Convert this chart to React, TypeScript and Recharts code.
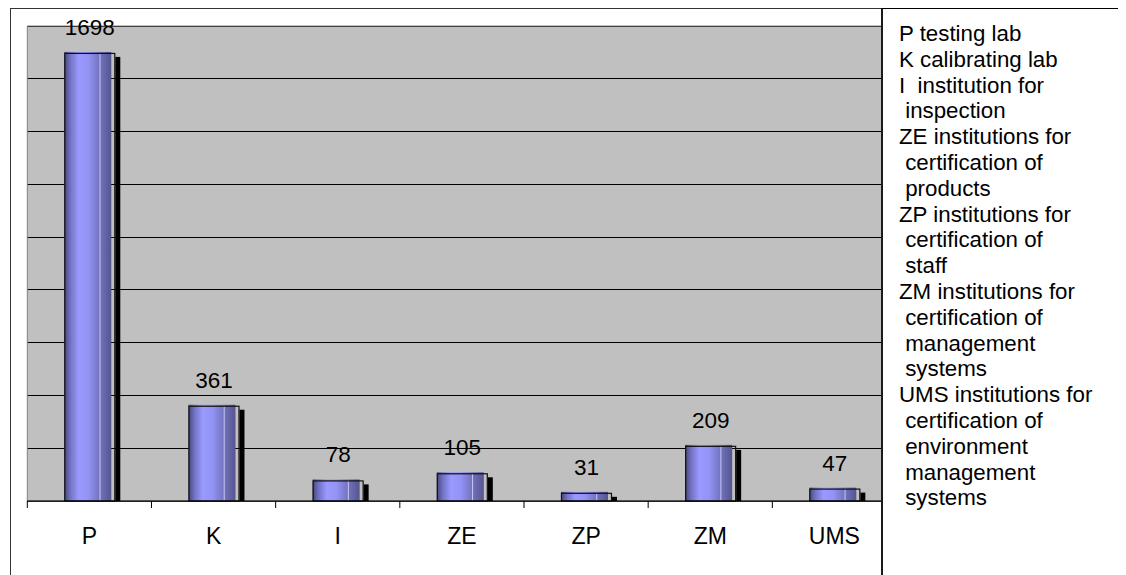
import React from "react";
import {
  BarChart,
  Bar,
  XAxis,
  YAxis,
  CartesianGrid,
  ReferenceArea,
  LabelList,
} from "recharts";

const CATEGORIES = ["P", "K", "I", "ZE", "ZP", "ZM", "UMS"];
const COUNTS = [1698, 361, 78, 105, 31, 209, 47];
const Y_TICKS = [0, 200, 400, 600, 800, 1000, 1200, 1400, 1600];
const Y_MAX = 1800;

const LEGEND_CODES = ["P", "K", "I ", "ZE", "ZP", "ZM", "UMS"];
const LEGEND_TEXT = [
  ["testing lab"],
  ["calibrating lab"],
  ["institution for", "inspection"],
  ["institutions for", "certification of", "products"],
  ["institutions for", "certification of", "staff"],
  ["institutions for", "certification of", "management", "systems"],
  ["institutions for", "certification of", "environment", "management", "systems"],
];

const FONT = '"Liberation Sans", Arial, sans-serif';

const chartData = CATEGORIES.map((name, i) => ({ name, value: COUNTS[i] }));

// excel-ish 3d column: gradient face, outline, black drop shadow
function ColumnShape(props: any) {
  const { x, y, width, height } = props;
  if (height <= 0) return null;
  const face = width - 4;
  return (
    <g>
      <rect x={x + width} y={y + 4} width={5} height={height - 4} fill="#000" />
      <rect x={x} y={y - 1} width={face} height={height + 1} fill="url(#colGrad)" />
      <line x1={x + face * 0.76} x2={x + face * 0.76} y1={y} y2={y + height} stroke="#c8c8f4" strokeWidth={1} />
      <rect x={x + 0.5} y={y + 0.5} width={width - 1} height={height - 0.5} fill="none" stroke="#111" strokeWidth={1.2} />
    </g>
  );
}

function CategoryTick(props: any) {
  const { x, y, payload, width } = props;
  const half = payload.offset || width / CATEGORIES.length / 2;
  return (
    <g>
      <line x1={x - half} x2={x - half} y1={y} y2={y + 7} stroke="#000" />
      <text x={x} y={y + 43} textAnchor="middle" fontSize={23} fontFamily={FONT} fill="#000">
        {payload.value}
      </text>
    </g>
  );
}

function ValueLabel(props: any) {
  const { x, y, width, value } = props;
  return (
    <text x={x + width / 2} y={y - 18} textAnchor="middle" fontSize={22.5} fontFamily={FONT} fill="#000">
      {value}
    </text>
  );
}

export default function App() {
  return (
    <div
      style={{
        position: "relative",
        width: 1118,
        height: 567,
        overflow: "hidden",
        fontFamily: FONT,
        background: "#fff",
      }}
    >
      <div
        style={{
          position: "absolute",
          left: 2,
          top: 0,
          width: 890,
          height: 620,
          border: "1px solid #333",
          boxSizing: "border-box",
        }}
      />
      <div style={{ position: "absolute", left: 2, top: 0 }}>
        <BarChart
          width={900}
          height={567}
          data={chartData}
          margin={{ top: 18, right: 13.5, left: 17.3, bottom: 0 }}
        >
          <defs>
            <linearGradient id="colGrad" x1="0" y1="0" x2="1" y2="0">
              <stop offset="0%" stopColor="#45457a" />
              <stop offset="12%" stopColor="#7070c0" />
              <stop offset="30%" stopColor="#9999ff" />
              <stop offset="50%" stopColor="#9494f6" />
              <stop offset="75%" stopColor="#7373c0" />
              <stop offset="100%" stopColor="#55558e" />
            </linearGradient>
          </defs>
          <CartesianGrid
            vertical={false}
            stroke="#000"
            fill="#c0c0c0"
            fillOpacity={1}
            shapeRendering="crispEdges"
          />
          <ReferenceArea y1={0} y2={Y_MAX} fill="none" stroke="#808080" />
          <YAxis hide domain={[0, Y_MAX]} ticks={Y_TICKS} />
          <XAxis
            dataKey="name"
            height={74}
            axisLine={{ stroke: "#000" }}
            tickLine={false}
            tickSize={0}
            tickMargin={0}
            interval={0}
            tick={<CategoryTick />}
          />
          <Bar
            dataKey="value"
            barSize={51}
            shape={<ColumnShape />}
            isAnimationActive={false}
          >
            <LabelList dataKey="value" content={<ValueLabel />} />
          </Bar>
        </BarChart>
      </div>
      <div
        style={{
          position: "absolute",
          left: 873,
          top: 0,
          width: 300,
          height: 620,
          background: "#fff",
          borderLeft: "2px solid #1a1a1a",
          borderTop: "1px solid #000",
          boxSizing: "border-box",
          paddingLeft: 16,
          paddingTop: 12,
          fontSize: 22.3,
          lineHeight: "25.8px",
          color: "#000",
          whiteSpace: "pre",
        }}
      >
        {LEGEND_CODES.map((code, i) =>
          LEGEND_TEXT[i].map((line, j) => (
            <div key={code + j}>{j === 0 ? `${code} ${line}` : ` ${line}`}</div>
          ))
        )}
      </div>
    </div>
  );
}
